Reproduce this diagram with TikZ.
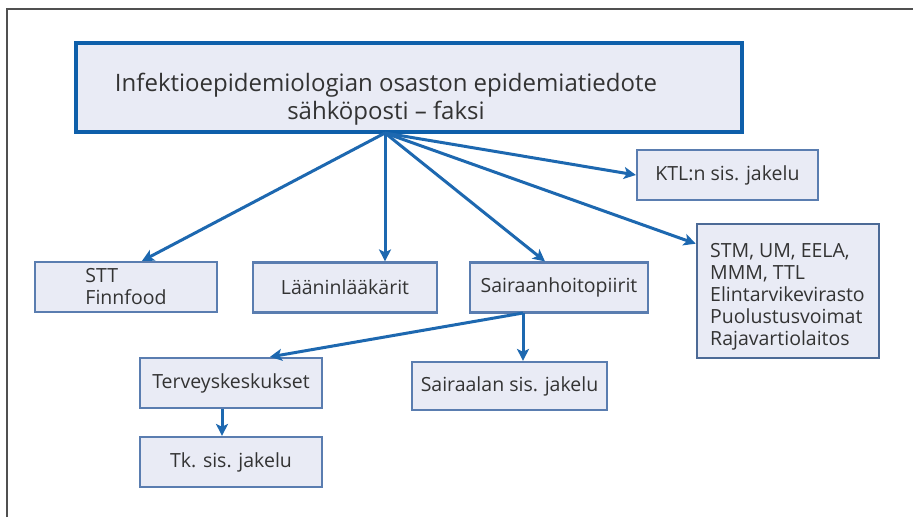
\documentclass[tikz,border=0pt]{standalone}
\usepackage{fontspec}
\setmainfont{Open Sans}
\usetikzlibrary{arrows.meta,calc}
\definecolor{boxfill}{HTML}{E9EBF5}
\definecolor{boxline}{HTML}{5A7DB0}
\definecolor{topline}{HTML}{0E5FAA}
\definecolor{arrowcol}{HTML}{1D68B0}
\definecolor{txt}{HTML}{333333}
\definecolor{frame}{HTML}{505050}
\tikzset{
  box/.style={draw=boxline, line width=2.2pt, fill=boxfill, inner sep=0pt,
    text=txt, font=\fontsize{19.5}{22}\selectfont},
  topbox/.style={draw=topline, line width=4pt, fill=boxfill, inner sep=0pt},
  arr/.style={draw=arrowcol, line width=3pt,
    -{Stealth[length=12pt,width=12pt,inset=3pt]}},
}
\begin{document}
\begin{tikzpicture}[x=1pt,y=-1pt]
\useasboundingbox (0,0) rectangle (913,517);
\fill[white] (0,0) rectangle (913,517);
\draw[frame, line width=2pt] (7,517) -- (7,9) -- (913,9);

\node[topbox, minimum width=666pt, minimum height=89pt] (top) at (409,87) {};
\node[text=txt, font=\fontsize{24}{28}\selectfont, align=center, inner sep=0pt] (toptext) at (386,99)
  {Infektioepidemiologian osaston epidemiatiedote\\sähköposti – faksi};

\node[box, minimum width=182pt, minimum height=50pt, align=left] (stt) at (126,287) {STT\\Finnfood};
\node[box, minimum width=184pt, minimum height=50pt] (laan) at (345,287.5) {Lääninlääkärit};
\node[box, minimum width=178pt, minimum height=50pt] (sai) at (559,287.5) {Sairaanhoitopiirit};
\node[box, minimum width=181pt, minimum height=50pt] (ktl) at (727.5,175) {KTL:n sis. jakelu};
\node[box, minimum width=182pt, minimum height=134pt, line width=2.6pt, draw=boxline!85!black] (stmbox) at (788,291) {};
\node[text=txt, font=\fontsize{19.5}{22}\selectfont, align=left, inner sep=0pt, anchor=west] (stm) at (710,297)
  {STM, UM, EELA,\\MMM, TTL\\Elintarvikevirasto\\Puolustusvoimat\\Rajavartiolaitos};
\node[box, minimum width=182pt, minimum height=50pt] (ter) at (231,383) {Terveyskeskukset};
\node[box, minimum width=195pt, minimum height=48pt] (sla) at (509.5,386) {Sairaalan sis. jakelu};
\node[box, minimum width=182pt, minimum height=50pt] (tk) at (231,462) {Tk. sis. jakelu};

\coordinate (src) at (385,133);
\coordinate (src2) at (523,313);
\draw[arr] (src) -- ([xshift=16pt]stt.north);
\draw[arr] (src) -- (src |- laan.north);
\draw[arr] (src) -- ([xshift=-14pt]sai.north);
\draw[arr] (src) -- (ktl.west);
\draw[arr] (src) -- ([yshift=-21pt]stmbox.north west);
\draw[arr] (src2) -- ([xshift=39pt]ter.north);
\draw[arr] (src2) -- (src2 |- sla.north);
\draw[arr] ([xshift=-9pt]ter.south) -- ([xshift=-9pt]tk.north);
\end{tikzpicture}
\end{document}
